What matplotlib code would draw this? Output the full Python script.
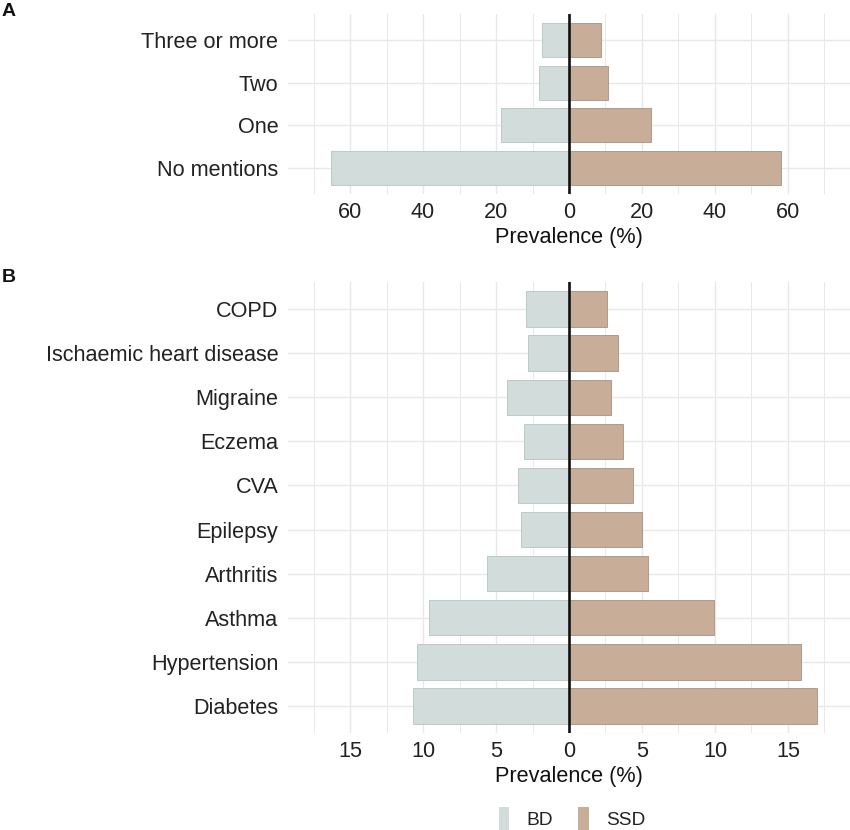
import matplotlib
matplotlib.use("Agg")
import matplotlib.pyplot as plt
from matplotlib.patches import Patch
from matplotlib.ticker import MultipleLocator, FuncFormatter

plt.rcParams['font.family'] = ['Liberation Sans', 'DejaVu Sans']

# ---- data ----
cats_a = ["Three or more", "Two", "One", "No mentions"]
bd_a = [7.4, 8.3, 18.7, 65.3]
ssd_a = [8.8, 10.8, 22.5, 58.1]

cats_b = ["COPD", "Ischaemic heart disease", "Migraine", "Eczema", "CVA",
          "Epilepsy", "Arthritis", "Asthma", "Hypertension", "Diabetes"]
bd_b = [2.94, 2.82, 4.24, 3.06, 3.48, 3.31, 5.61, 9.56, 10.42, 10.69]
ssd_b = [2.62, 3.33, 2.87, 3.68, 4.36, 4.98, 5.39, 9.90, 15.9, 16.99]

groups = ["BD", "SSD"]
colors = ["#d2dcda", "#c8ae98"]
edges = ["#b8c4c2", "#a89080"]

TXT = "#222222"
GRID = "#e8e8e8"
FS = 15.6

W, H = 850, 830
fig = plt.figure(figsize=(W / 100, H / 100), dpi=100)


def panel(rect, cats, bd, ssd, lim, major, minor):
    ax = fig.add_axes(rect)
    y = list(range(len(cats)))
    ax.barh(y, [-v for v in bd], height=0.8, color=colors[0],
            edgecolor=edges[0], linewidth=0.6, zorder=2)
    ax.barh(y, ssd, height=0.8, color=colors[1],
            edgecolor=edges[1], linewidth=0.6, zorder=2)
    ax.axvline(0, color="#111111", lw=1.9, zorder=3)
    ax.set_xlim(-lim, lim)
    ax.set_ylim(len(cats) - 0.4, -0.6)
    ax.set_yticks(y)
    ax.set_yticklabels(cats)
    ax.xaxis.set_major_locator(MultipleLocator(major))
    ax.xaxis.set_minor_locator(MultipleLocator(minor))
    ax.xaxis.set_major_formatter(FuncFormatter(lambda v, p: f"{abs(v):g}"))
    ax.grid(which="major", axis="both", color=GRID, lw=1.0, zorder=0)
    ax.grid(which="minor", axis="x", color=GRID, lw=0.7, zorder=0)
    for s in ax.spines.values():
        s.set_visible(False)
    ax.tick_params(which="both", length=0, labelsize=FS, labelcolor=TXT)
    ax.tick_params(axis="x", pad=6)
    ax.tick_params(axis="y", pad=7)
    ax.set_xlabel("Prevalence (%)", fontsize=FS, color="#111111", labelpad=3)
    return ax


left = 288 / W
width = 562 / W
axA = panel([left, 1 - 193.6 / H, width, (193.6 - 14.4) / H],
            cats_a, bd_a, ssd_a, 77, 20, 10)
axB = panel([left, 1 - 732.5 / H, width, (732.5 - 282.5) / H],
            cats_b, bd_b, ssd_b, 19.25, 5, 2.5)

fig.text(2 / W, 1 - 12 / H, "A", fontsize=14, fontweight="bold",
         color="#111111", va="center", ha="left")
fig.text(2 / W, 1 - 277 / H, "B", fontsize=14, fontweight="bold",
         color="#111111", va="center", ha="left")

handles = [Patch(facecolor=c, edgecolor="none") for c in colors]
fig.legend(handles, groups, loc="center", bbox_to_anchor=(572 / W, 1 - 819 / H),
           ncol=2, frameon=False, fontsize=13.8, handlelength=0.55,
           handleheight=1.6, handletextpad=0.9, columnspacing=1.3,
           labelcolor=TXT, borderpad=0.1)

fig.savefig("out.png", dpi=100, facecolor="white")
